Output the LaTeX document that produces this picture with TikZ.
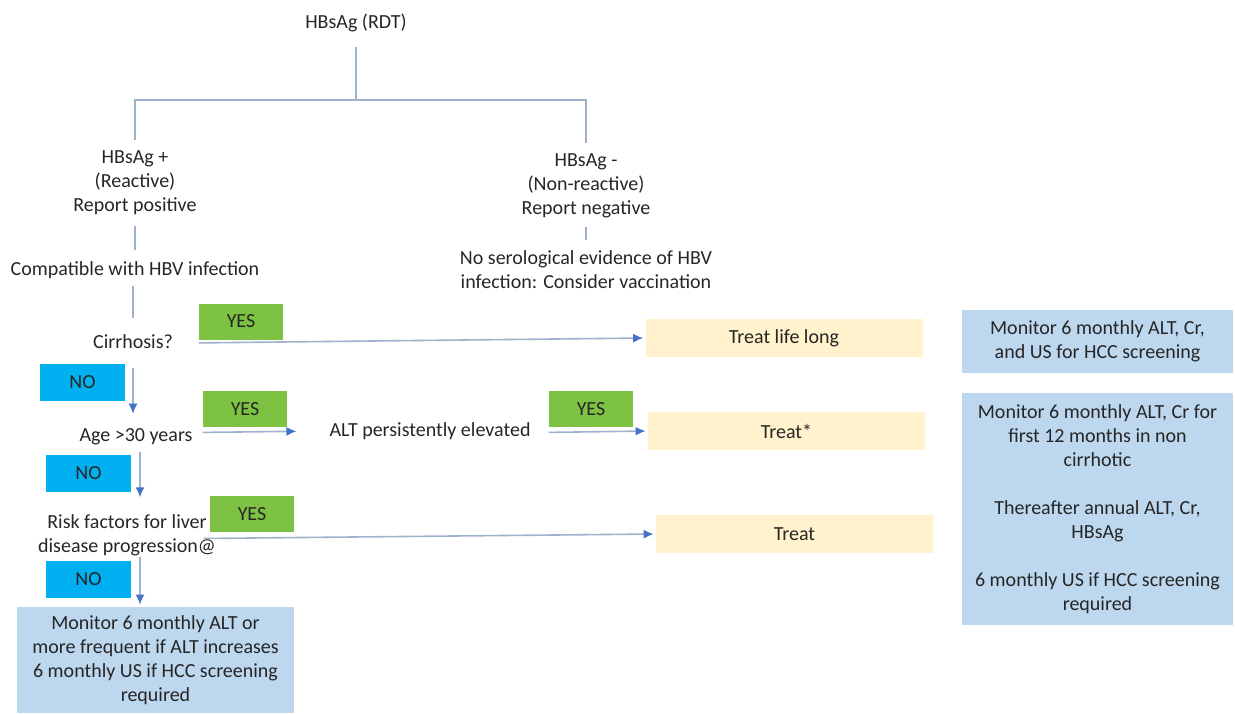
\documentclass[tikz,border=0pt]{standalone}
\usepackage{fontspec}
\setmainfont{Carlito}
\usepackage{tikz}
\usetikzlibrary{arrows.meta}
\usetikzlibrary{positioning}
\usepackage{xcolor}

\definecolor{yesgreen}{RGB}{125,194,66}
\definecolor{noblue}{RGB}{0,176,240}
\definecolor{treatyellow}{RGB}{255,242,204}
\definecolor{monblue}{RGB}{189,215,238}
\definecolor{linegray}{RGB}{160,177,205}
\definecolor{tipblue}{RGB}{68,114,196}
\definecolor{txtgray}{RGB}{38,38,38}

\tikzset{
  yesbox/.style={fill=yesgreen, minimum width=42pt, minimum height=18pt, inner sep=0pt},
  nobox/.style={fill=noblue, minimum width=42.5pt, minimum height=18.5pt, inner sep=0pt},
  treatbox/.style={fill=treatyellow, minimum width=138.5pt, minimum height=19pt, inner sep=0pt},
  monbox/.style={fill=monblue, minimum width=135.5pt, align=center, inner sep=0pt},
  tree/.style={draw=linegray, line width=0.8pt},
  flow/.style={draw=linegray, line width=0.8pt, -{Latex[length=5pt,width=4.5pt,color=tipblue]}},
}

\begin{document}
\begin{tikzpicture}[x=0.5pt, y=-0.5pt, text=txtgray, font=\fontsize{10}{12}\selectfont]
  \useasboundingbox (0,0) rectangle (1235,713);

  % Top: test and its two results
  \node (rdt) at (356,23) {HBsAg (RDT)};
  \node[align=center] (pos) at (135,183) {HBsAg +\\(Reactive)\\Report positive};
  \node[align=center] (neg) at (586,186) {HBsAg -\\(Non-reactive)\\Report negative};
  \node (compat) at (135,270) {Compatible with HBV infection};
  \node[align=center] (noser) at (586,270) {No serological evidence of HBV\\infection: Consider vaccination};

  \coordinate (split) at (356,100);
  \draw[tree, shorten <=4pt] (rdt) -- (split);
  \draw[tree, shorten >=2pt] (split) -| (pos);
  \draw[tree, shorten >=2pt] (split) -| (neg);
  \draw[tree, shorten <=2pt, shorten >=2pt] (pos) -- (compat);
  \draw[tree, shorten <=1pt, shorten >=2pt] (neg) -- (noser);

  % Left: questions (vertical)
  \node (cirr) at (133,342) {Cirrhosis?};
  \node (age) at (136,437) {Age >30 years};
  \node (alt) at (430,431) {ALT persistently elevated};
  \node[align=center] (risk) at (127,535) {Risk factors for liver\\disease progression@};

  \draw[tree, shorten <=0pt, shorten >=5pt] (cirr |- compat.south) -- (cirr.north);

  \node[yesbox] (y1) at (241,321.5) {YES};
  \node[yesbox] (y2) at (245,409) {YES};
  \node[yesbox] (y3) at (591,409) {YES};
  \node[yesbox] (y4) at (252,514) {YES};
  \node[nobox] (n1) at (82.5,382.5) {NO};
  \node[nobox] (n2) at (88.5,473) {NO};
  \node[nobox] (n3) at (88.5,579.5) {NO};

  % Right: outcomes
  \node[treatbox] (tlife) at (784,338) {Treat life long};
  \node[treatbox] (tstar) at (786.5,431) {Treat*};
  \node[treatbox] (treat) at (794.5,534) {Treat};

  \node[monbox, minimum height=31.5pt] (mon2) at (1097.5,341.5)
    {Monitor 6 monthly ALT, Cr,\\and US for HCC screening};
  \node[monbox, minimum height=116pt] (mon3) at (1097.5,509)
    {Monitor 6 monthly ALT, Cr for\\first 12 months in non\\cirrhotic\\[12pt]Thereafter annual ALT, Cr,\\HBsAg\\[12pt]6 monthly US if HCC screening\\required};
  \node[monbox, minimum width=138.5pt, minimum height=53pt] (mon1) at (155.5,660)
    {Monitor 6 monthly ALT or\\more frequent if ALT increases\\6 monthly US if HCC screening\\required};

  % NO: down
  \draw[flow, shorten <=6pt, shorten >=4pt] (cirr.south) -- (cirr.south |- age.north);
  \draw[flow, shorten >=5pt] ([xshift=2pt]age.south) -- ([xshift=2pt]age.south |- risk.north);
  \draw[flow, shorten <=-3pt, shorten >=1pt] ([xshift=6.5pt]risk.south) -- ([xshift=6.5pt]risk.south |- mon1.north);

  % YES: right
  \draw[flow, shorten >=1pt] ([yshift=-1.5pt]y1.south west) -- (tlife.west);
  \draw[flow, shorten >=13pt] ([yshift=-2.5pt]y2.south west) -- (alt.west);
  \draw[flow, shorten >=1pt] ([yshift=-2.5pt]y3.south west) -- (tstar.west);
  \draw[flow, shorten <=-3pt, shorten >=1pt] ([yshift=-3pt]y4.south west) -- (treat.west);
\end{tikzpicture}
\end{document}
